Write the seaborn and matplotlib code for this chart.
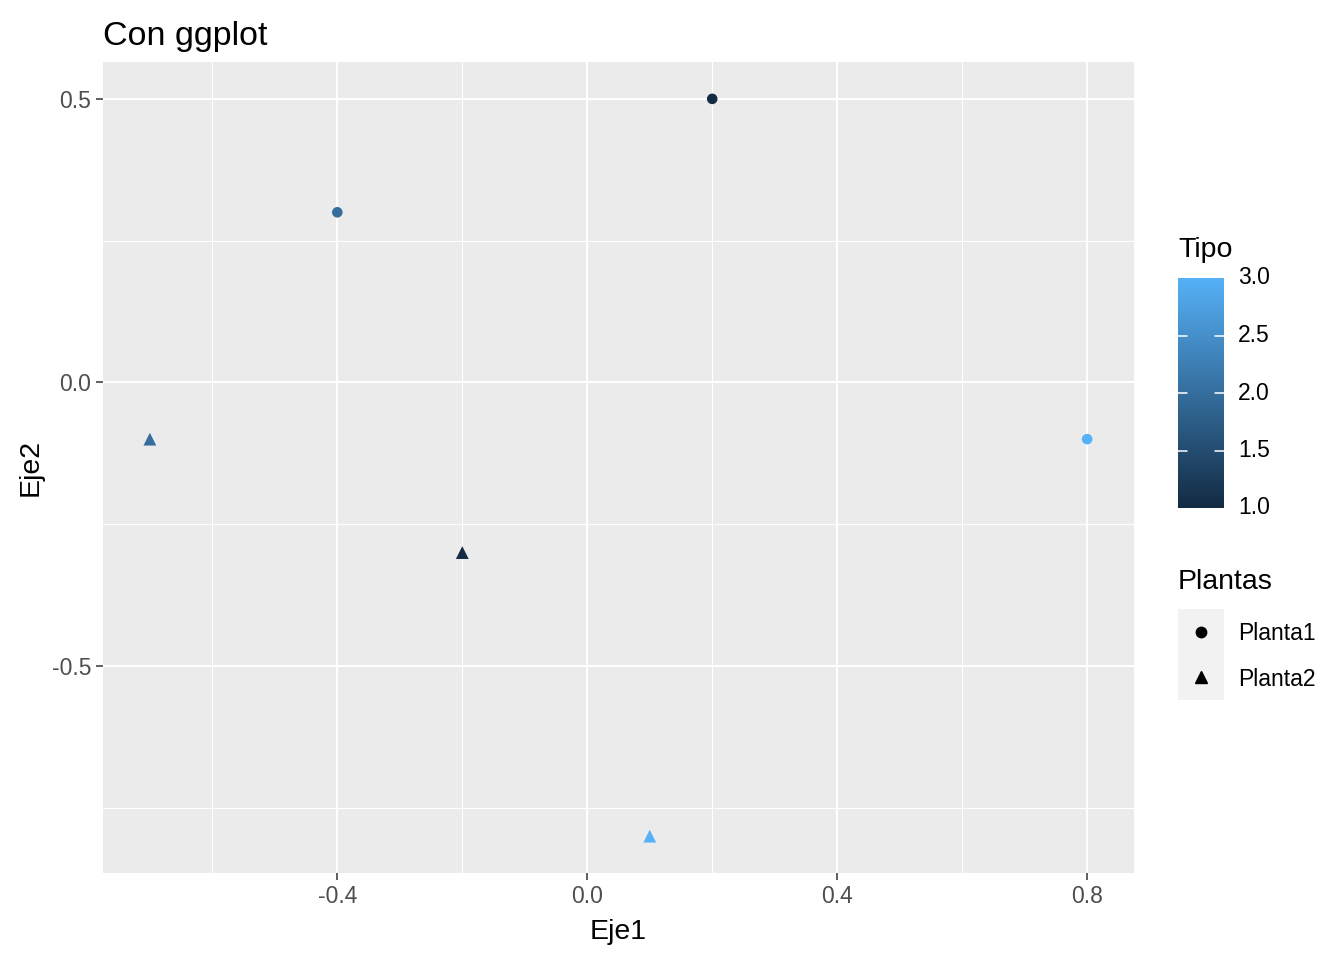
import numpy as np
import pandas as pd
import matplotlib
matplotlib.use("Agg")
import matplotlib.pyplot as plt
from matplotlib.colors import LinearSegmentedColormap, Normalize
import seaborn as sns

eje1 = [0.2, -0.4, 0.8, -0.7, -0.2, 0.1]
eje2 = [0.5, 0.3, -0.1, -0.1, -0.3, -0.8]
tipo = [1, 2, 3, 2, 1, 3]
plantas = ["Planta1", "Planta1", "Planta1", "Planta2", "Planta2", "Planta2"]

df = pd.DataFrame({"Eje1": eje1, "Eje2": eje2, "Tipo": tipo, "Plantas": plantas})

sns.set_theme(style="white")
plt.rcParams["font.family"] = ["Liberation Sans", "DejaVu Sans"]
plt.rcParams["text.color"] = "black"
plt.rcParams["axes.labelcolor"] = "black"

W, H = 1344, 960
fig = plt.figure(figsize=(W / 100, H / 100), dpi=100)
ax = fig.add_axes([103 / W, 1 - 873 / H, (1134 - 103) / W, (873 - 62) / H])

cmap = LinearSegmentedColormap.from_list("gg", ["#132B43", "#56B1F7"])
norm = Normalize(1, 3)

ax.set_facecolor("#EBEBEB")
for s in ax.spines.values():
    s.set_visible(False)

ax.set_xlim(-0.775, 0.875)
ax.set_ylim(-0.865, 0.565)
ax.set_xticks([-0.4, 0.0, 0.4, 0.8])
ax.set_yticks([-0.5, 0.0, 0.5])
ax.set_xticks([-0.6, -0.2, 0.2, 0.6], minor=True)
ax.set_yticks([-0.75, -0.25, 0.25], minor=True)
ax.grid(True, which="major", color="white", linewidth=1.45)
ax.grid(True, which="minor", color="white", linewidth=0.75)
ax.set_axisbelow(True)

sns.scatterplot(data=df, x="Eje1", y="Eje2", hue="Tipo", palette=cmap, hue_norm=norm,
                style="Plantas", markers={"Planta1": "o", "Planta2": "^"},
                size="Plantas", sizes={"Planta1": 58, "Planta2": 85},
                linewidth=0, legend=False, ax=ax, zorder=3)

ax.tick_params(which="major", length=5.3, width=1.1, color="#333333",
               labelsize=16.5, labelcolor="#4D4D4D", pad=3, left=True, bottom=True)
ax.tick_params(which="minor", length=0)
ax.set_xticklabels(["-0.4", "0.0", "0.4", "0.8"])
ax.set_yticklabels(["-0.5", "0.0", "0.5"])
ax.set_xlabel("Eje1", fontsize=20.5, labelpad=8, color="black")
ax.set_ylabel("Eje2", fontsize=20.5, labelpad=6, color="black")
ax.set_title("Con ggplot", fontsize=24.5, loc="left", pad=12, color="black")

# colour legend
fig.text(1178 / W, 1 - 250 / H, "Tipo", fontsize=20.5, va="center", ha="left")
cax = fig.add_axes([1178 / W, 1 - 508 / H, 46 / W, 230 / H])
grad = np.linspace(1, 3, 256).reshape(-1, 1)
cax.imshow(grad, aspect="auto", cmap=cmap, norm=norm, origin="lower", extent=[0, 1, 1, 3])
for v in [1.5, 2.0, 2.5]:
    cax.plot([0, 0.2], [v, v], color="white", lw=1.1)
    cax.plot([0.8, 1], [v, v], color="white", lw=1.1)
cax.set_xlim(0, 1)
cax.set_ylim(1, 3)
cax.axis("off")
for v in [1.0, 1.5, 2.0, 2.5, 3.0]:
    yp = 508 - (v - 1) / 2 * 230
    fig.text(1238 / W, 1 - yp / H, f"{v:.1f}", fontsize=16.5, va="center", ha="left")

# shape legend
fig.text(1178 / W, 1 - 582 / H, "Plantas", fontsize=20.5, va="center", ha="left")
kax = fig.add_axes([1178 / W, 1 - 700 / H, 46 / W, 91 / H])
kax.set_facecolor("#F2F2F2")
for s in kax.spines.values():
    s.set_visible(False)
kax.set_xticks([])
kax.set_yticks([])
kax.set_xlim(0, 1)
kax.set_ylim(0, 2)
kax.plot([0.5], [1.5], marker="o", color="black", markersize=7.5, linestyle="none")
kax.plot([0.5], [0.5], marker="^", color="black", markersize=9, linestyle="none")
fig.text(1238 / W, 1 - 633 / H, "Planta1", fontsize=16.5, va="center", ha="left")
fig.text(1238 / W, 1 - 679 / H, "Planta2", fontsize=16.5, va="center", ha="left")

fig.savefig("out.png", dpi=100, facecolor="white")
